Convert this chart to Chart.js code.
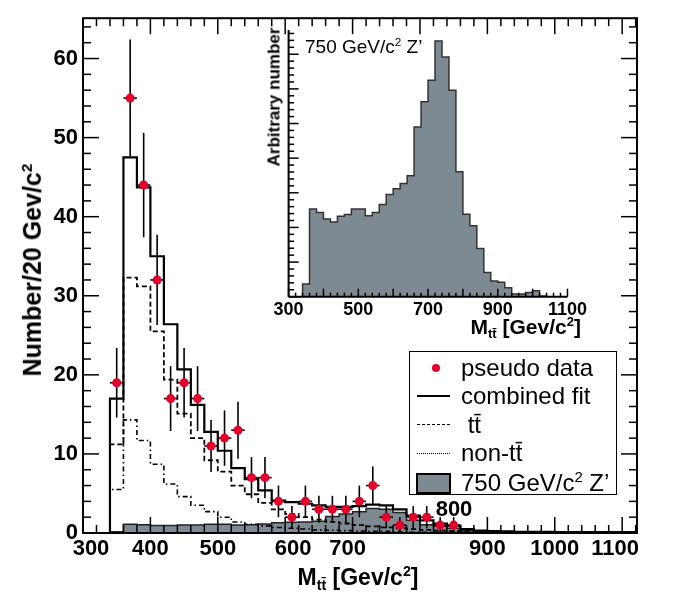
<!DOCTYPE html>
<html>
<head>
<meta charset="utf-8">
<script src="https://cdn.jsdelivr.net/npm/chart.js@4.4.1/dist/chart.umd.min.js"></script>
<style>
  body { margin: 0; background: #fff; }
  #wrap { position: relative; width: 678px; height: 602px; overflow: hidden;
          font-family: "Liberation Sans", Arial, sans-serif; color: #000; }
  canvas { position: absolute; }
  #main { left: 0; top: 0; }
  #inset { left: 250px; top: 20px; }
  .txt { position: absolute; white-space: nowrap; line-height: 1; }
  .rot { transform: translate(-50%, -50%) rotate(-90deg); }
  .ctr { transform: translate(-50%, -50%); }
  .b { font-weight: bold; }
  .sub { font-size: 62%; vertical-align: -0.35em; }
  .sup { font-size: 62%; vertical-align: 0.6em; }
  #legend { position: absolute; left: 409px; top: 351px; width: 208px; height: 144px;
            border: 1.5px solid #000; background: #fff; box-sizing: border-box; }
  .row { position: absolute; left: 51px; font-size: 24px; transform: translateY(-50%); white-space: nowrap; }
  .sym { position: absolute; }
</style>
</head>
<body>
<div id="wrap">
  <canvas id="main" width="678" height="602"></canvas>
  <canvas id="inset" width="340" height="310"></canvas>

  <div class="txt b rot" style="left:32px; top:270px; font-size:25px;">Number/20 Gev/c<span class="sup">2</span></div>
  <div class="txt b ctr" style="left:358px; top:578px; font-size:23px;">M<span class="sub">tt&#772;</span> [Gev/c<span class="sup">2</span>]</div>
  <div class="txt b ctr" style="left:454px; top:509px; font-size:22px;">800</div>

  <div class="txt b rot" style="left:274px; top:97px; font-size:17px;">Arbitrary number</div>
  <div class="txt b" style="right:97px; top:315px; font-size:21px;">M<span class="sub">tt&#772;</span> [Gev/c<span class="sup">2</span>]</div>
  <div class="txt" style="left:305px; top:36px; font-size:19px;">750 GeV/c<span class="sup">2</span> Z&#8217;</div>

  <div id="legend">
    <div class="sym" style="left:22px; top:12px; width:8px; height:8px; border-radius:50%; background:#e3002a;"></div>
    <div class="row" style="top:16px;">pseudo data</div>
    <div class="sym" style="left:7px; top:43px; width:33px; border-top:2px solid #000;"></div>
    <div class="row" style="top:44px;">combined fit</div>
    <div class="sym" style="left:7px; top:72px; width:33px; border-top:1.5px dashed #000;"></div>
    <div class="row" style="top:73px;">&nbsp;tt&#772;</div>
    <div class="sym" style="left:7px; top:101px; width:33px; border-top:1.5px dotted #000;"></div>
    <div class="row" style="top:101px;">non-tt&#772;</div>
    <div class="sym" style="left:6px; top:121px; width:35px; height:21px; background:#7e8a92; border:2px solid #000; box-sizing:border-box;"></div>
    <div class="row" style="top:131px;">750 GeV/c<span class="sup">2</span> Z&#8217;</div>
  </div>
</div>

<script>
// bins: 20 GeV wide, first low edge at 340 GeV
const binLowEdge = 340;
const binWidth = 20;

// main plot, events per bin (bins 340..1120)
const combinedFit = [17.0, 47.5, 43.7, 35.0, 26.4, 20.7, 16.2, 12.8, 10.4, 8.2,
  6.8, 5.4, 4.1, 3.9, 3.7, 3.5, 3.3, 3.3, 3.4, 3.6,
  3.5, 3.0, 2.2, 1.6, 1.2, 0.9, 0.5, 0.3, 0.25, 0.2,
  0.15, 0.15, 0.15, 0.1, 0.1, 0.1, 0.1, 0.1, 0.1];
const ttbar = [11.2, 32.3, 31.2, 25.5, 19.4, 15.1, 12.0, 9.2, 7.75, 6.0,
  4.9, 3.8, 3.0, 2.4, 2.0, 1.7, 1.4, 1.2, 1.0, 0.85,
  0.7, 0.6, 0.5, 0.4, 0.3, 0.25, 0.2, 0.15, 0.1, 0.1,
  0.05, 0.05, 0.05, 0.05, 0.05, 0.05, 0.05, 0.05, 0.05];
const nonTtbar = [5.5, 14.3, 11.7, 8.7, 6.2, 4.6, 3.5, 2.7, 2.0, 1.4,
  1.1, 0.9, 0.7, 0.6, 0.5, 0.4, 0.35, 0.3, 0.25, 0.2,
  0.2, 0.15, 0.1, 0.1, 0.1, 0.05, 0.05, 0.05, 0.05, 0.05,
  0.05, 0.05, 0.05, 0.05, 0.05, 0.05, 0.05, 0.05, 0.05];
const zprimeMain = [0.15, 1.1, 1.05, 0.95, 0.95, 1.0, 1.0, 1.1, 1.1, 1.0,
  1.05, 1.15, 1.3, 1.35, 1.4, 1.5, 2.1, 2.4, 2.7, 3.1,
  3.0, 2.6, 1.6, 1.05, 0.9, 0.6, 0.3, 0.2, 0.18, 0.1,
  0.05, 0.05, 0.05, 0.07, 0.01, 0, 0, 0, 0];

// pseudo data (bin centres)
const dataMass = [350, 370, 390, 410, 430, 450, 470, 490, 510, 530, 550, 570, 590,
  610, 630, 650, 670, 690, 710, 730, 750, 770, 790, 810, 830, 850];
const dataCount = [19, 55, 44, 32, 17, 19, 17, 11, 12, 13, 7, 7, 4,
  2, 4, 3, 3, 3, 4, 6, 2, 1, 2, 2, 1, 1];
const dataError = [4.4, 7.4, 6.6, 5.7, 4.1, 4.4, 4.1, 3.3, 3.5, 3.6, 2.6, 2.6, 2.0,
  1.4, 2.0, 1.7, 1.7, 1.7, 2.0, 2.4, 1.4, 1.0, 1.4, 1.4, 1.0, 1.0];

// inset: 750 GeV Z' shape, arbitrary units (bins 340..1080)
const insetZprime = [3.7, 25.3, 24.3, 22.4, 21.6, 23.2, 23.7, 25.3, 25.3, 23.4,
  24.3, 26.6, 29.5, 31.2, 32.7, 34.9, 49.0, 56.3, 62.5, 73.8,
  69.2, 59.6, 36.1, 23.8, 20.5, 13.9, 7.0, 4.5, 4.2, 2.6,
  0.8, 0.8, 1.2, 1.7, 0.2, 0, 0, 0];

const xTickValues = [300, 400, 500, 600, 700, 800, 900, 1000, 1100];
const xTickLabels = ['300', '400', '500', '600', '700', '', '900', '1000', '1100'];
const yTickValues = [0, 10, 20, 30, 40, 50, 60];
const insetXTicks = [300, 500, 700, 900, 1100];

const FONT = "'Liberation Sans', Arial, sans-serif";
Chart.defaults.font.family = FONT;
Chart.defaults.color = '#000';

// label nudges in px, the original moves a few labels off their ticks
const xLabelNudge = [8, 0, 0, 8, -5, 0, 0, 0, -7];

function histPoints(values) {
  const pts = [{ x: binLowEdge, y: 0 }];
  values.forEach((v, i) => pts.push({ x: binLowEdge + i * binWidth, y: v }));
  pts.push({ x: binLowEdge + values.length * binWidth, y: 0 });
  return pts;
}

function tickLine(ctx, x1, y1, x2, y2) {
  ctx.beginPath(); ctx.moveTo(x1, y1); ctx.lineTo(x2, y2); ctx.stroke();
}

const mainFrame = {
  id: 'mainFrame',
  afterDatasetsDraw(chart) {
    const { ctx, chartArea: a, scales: { x, y } } = chart;
    ctx.save();
    ctx.strokeStyle = '#000';
    ctx.lineWidth = 2;
    ctx.strokeRect(a.left, a.top, a.right - a.left, a.bottom - a.top);
    ctx.lineWidth = 1.5;
    for (let v = 300; v <= 1120; v += 20) {
      const px = x.getPixelForValue(v);
      const len = v % 100 === 0 ? 16 : 8;
      tickLine(ctx, px, a.bottom, px, a.bottom - len);
      tickLine(ctx, px, a.top, px, a.top + len);
    }
    for (let v = 0; v <= 64; v += 2) {
      const py = y.getPixelForValue(v);
      const len = v % 10 === 0 ? 16 : 8;
      tickLine(ctx, a.left, py, a.left + len, py);
      tickLine(ctx, a.right, py, a.right - len, py);
    }
    // x labels
    ctx.fillStyle = '#000';
    ctx.font = 'bold 22px ' + FONT;
    ctx.textAlign = 'center';
    ctx.textBaseline = 'alphabetic';
    xTickValues.forEach((v, i) => {
      ctx.fillText(xTickLabels[i], x.getPixelForValue(v) + xLabelNudge[i], 555);
    });
    ctx.restore();
  }
};

const errorBars = {
  id: 'errorBars',
  beforeDatasetDraw(chart, args) {
    if (args.index !== 0) return;
    const { ctx, scales: { x, y } } = chart;
    ctx.save();
    ctx.strokeStyle = '#000';
    ctx.lineWidth = 1.6;
    dataMass.forEach((m, i) => {
      const px = x.getPixelForValue(m);
      const py = y.getPixelForValue(dataCount[i]);
      tickLine(ctx, px, y.getPixelForValue(dataCount[i] - dataError[i]), px, y.getPixelForValue(dataCount[i] + dataError[i]));
      tickLine(ctx, x.getPixelForValue(m - binWidth / 2), py, x.getPixelForValue(m + binWidth / 2), py);
    });
    ctx.restore();
  }
};

const histLine = (label, values, color, width, dash) => ({
  label, data: histPoints(values), stepped: true, borderColor: color,
  borderWidth: width, borderDash: dash, pointRadius: 0, fill: false
});

new Chart(document.getElementById('main'), {
  type: 'line',
  data: {
    datasets: [
      {
        type: 'scatter', label: 'pseudo data',
        data: dataMass.map((m, i) => ({ x: m, y: dataCount[i] })),
        pointRadius: 4.5, pointBackgroundColor: '#e3002a', pointBorderWidth: 0, showLine: false
      },
      histLine('combined fit', combinedFit, '#000', 2.2, []),
      histLine('ttbar', ttbar, '#000', 1.8, [5, 3]),
      histLine('non-ttbar', nonTtbar, '#000', 1.6, [5, 3, 1.5, 3]),
      {
        label: "750 GeV Z'", data: histPoints(zprimeMain), stepped: true,
        borderColor: '#222', borderWidth: 1.5, pointRadius: 0,
        fill: 'origin', backgroundColor: '#7e8a92'
      }
    ]
  },
  options: {
    responsive: false,
    animation: false,
    layout: { padding: { left: 0, top: 12, right: 41, bottom: 0 } },
    plugins: { legend: { display: false }, tooltip: { enabled: false } },
    scales: {
      x: {
        type: 'linear', min: 300, max: 1122,
        grid: { display: false, drawTicks: false }, border: { display: false },
        ticks: { display: false },
        afterBuildTicks: s => { s.ticks = xTickValues.map(v => ({ value: v })); },
        afterFit: s => { s.height = 69; }
      },
      y: {
        min: 0, max: 65.1,
        grid: { display: false, drawTicks: false }, border: { display: false },
        ticks: { font: { size: 22, weight: 'bold' }, color: '#000', padding: 5 },
        afterBuildTicks: s => { s.ticks = yTickValues.map(v => ({ value: v })); },
        afterFit: s => { s.width = 83; }
      }
    }
  },
  plugins: [mainFrame, errorBars]
});

const insetAxes = {
  id: 'insetAxes',
  afterDatasetsDraw(chart) {
    const { ctx, chartArea: a, scales: { x, y } } = chart;
    ctx.save();
    ctx.strokeStyle = '#000';
    ctx.lineWidth = 2;
    tickLine(ctx, a.left, a.top, a.left, a.bottom);
    tickLine(ctx, a.left, a.bottom, a.right, a.bottom);
    ctx.lineWidth = 1.5;
    for (let v = 300; v <= 1100; v += 20) {
      const px = x.getPixelForValue(v);
      tickLine(ctx, px, a.bottom, px, a.bottom - (v % 100 === 0 ? 8 : 4));
    }
    for (let v = 0; v <= 76; v += 2) {
      const py = y.getPixelForValue(v);
      tickLine(ctx, a.left, py, a.left + (v % 10 === 0 ? 10 : 5.5), py);
    }
    ctx.restore();
  }
};

new Chart(document.getElementById('inset'), {
  type: 'line',
  data: {
    datasets: [{
      label: "750 GeV Z'", data: histPoints(insetZprime), stepped: true,
      borderColor: '#333', borderWidth: 1.5, pointRadius: 0,
      fill: 'origin', backgroundColor: '#7e8a92'
    }]
  },
  options: {
    responsive: false,
    animation: false,
    layout: { padding: { left: 0, top: 10, right: 20, bottom: 0 } },
    plugins: { legend: { display: false }, tooltip: { enabled: false } },
    scales: {
      x: {
        type: 'linear', min: 300, max: 1100,
        grid: { display: false, drawTicks: false }, border: { display: false },
        ticks: {
          font: { size: 18, weight: 'bold' }, color: '#000', padding: 3, maxRotation: 0, autoSkip: false,
          callback: v => String(v)
        },
        afterBuildTicks: s => { s.ticks = insetXTicks.map(v => ({ value: v })); },
        afterFit: s => { s.height = 33.3; }
      },
      y: {
        min: 0, max: 77,
        grid: { display: false, drawTicks: false }, border: { display: false },
        ticks: { display: false },
        afterFit: s => { s.width = 38.6; }
      }
    }
  },
  plugins: [insetAxes]
});
</script>
</body>
</html>
